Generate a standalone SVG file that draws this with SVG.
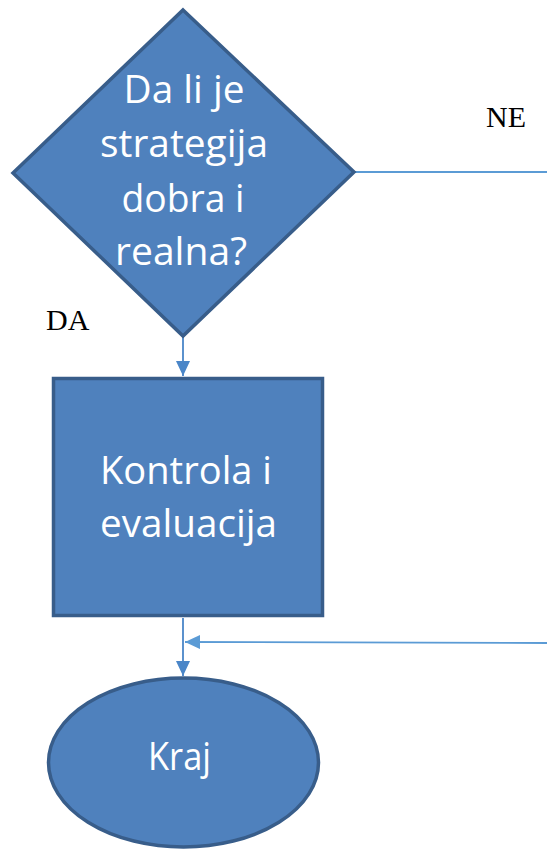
<svg xmlns="http://www.w3.org/2000/svg" width="547" height="850" viewBox="0 0 547 850">
  <style>
    .shape { fill: #4f81bd; stroke: #385d8a; stroke-width: 3.5; }
    .lbl { font-family: "Open Sans", "Noto Sans", sans-serif; font-size: 39px; fill: #ffffff; text-anchor: middle; }
    .ann { font-family: "Liberation Serif", "Times New Roman", serif; font-size: 30px; fill: #000000; }
    .conn { stroke: #4a86c8; stroke-width: 1.8; fill: none; }
    .conn2 { stroke: #5b9bd5; stroke-width: 1.8; fill: none; }
  </style>
  <defs>
    <marker id="arr" markerUnits="userSpaceOnUse" markerWidth="16" markerHeight="14" refX="15" refY="7" orient="auto">
      <path d="M0,0 L15,7 L0,14 Z" fill="#4a86c8"/>
    </marker>
    <marker id="arr2" markerUnits="userSpaceOnUse" markerWidth="16" markerHeight="14" refX="15" refY="7" orient="auto">
      <path d="M0,0 L15,7 L0,14 Z" fill="#5b9bd5"/>
    </marker>
  </defs>

  <g id="connectors">
    <line class="conn2" x1="354" y1="172" x2="547" y2="172"/>
    <line class="conn" x1="183" y1="336" x2="183" y2="376" marker-end="url(#arr)"/>
    <line class="conn" x1="183" y1="618" x2="183" y2="676" marker-end="url(#arr)"/>
    <line class="conn2" x1="547" y1="643" x2="185" y2="642" marker-end="url(#arr2)"/>
  </g>

  <g id="decision">
    <polygon class="shape" points="183,10 354,172 183,336 13,173"/>
    <text class="lbl" x="184" y="103" textLength="121" lengthAdjust="spacingAndGlyphs">Da li je</text>
    <text class="lbl" x="184" y="157" textLength="168" lengthAdjust="spacingAndGlyphs">strategija</text>
    <text class="lbl" x="183" y="212" textLength="123" lengthAdjust="spacingAndGlyphs">dobra i</text>
    <text class="lbl" x="181" y="265" textLength="132" lengthAdjust="spacingAndGlyphs">realna?</text>
  </g>

  <g id="kontrola">
    <rect class="shape" x="53.5" y="378.5" width="269" height="237"/>
    <text class="lbl" x="186" y="484" textLength="172" lengthAdjust="spacingAndGlyphs">Kontrola i</text>
    <text class="lbl" x="188.5" y="537" textLength="177" lengthAdjust="spacingAndGlyphs">evaluacija</text>
  </g>

  <g id="kraj">
    <ellipse class="shape" cx="183.5" cy="762.5" rx="135" ry="84.5"/>
    <text class="lbl" x="179.5" y="770" textLength="63" lengthAdjust="spacingAndGlyphs">Kraj</text>
  </g>

  <g id="labels">
    <text class="ann" x="46" y="330">DA</text>
    <text class="ann" x="486" y="127">NE</text>
  </g>
</svg>
